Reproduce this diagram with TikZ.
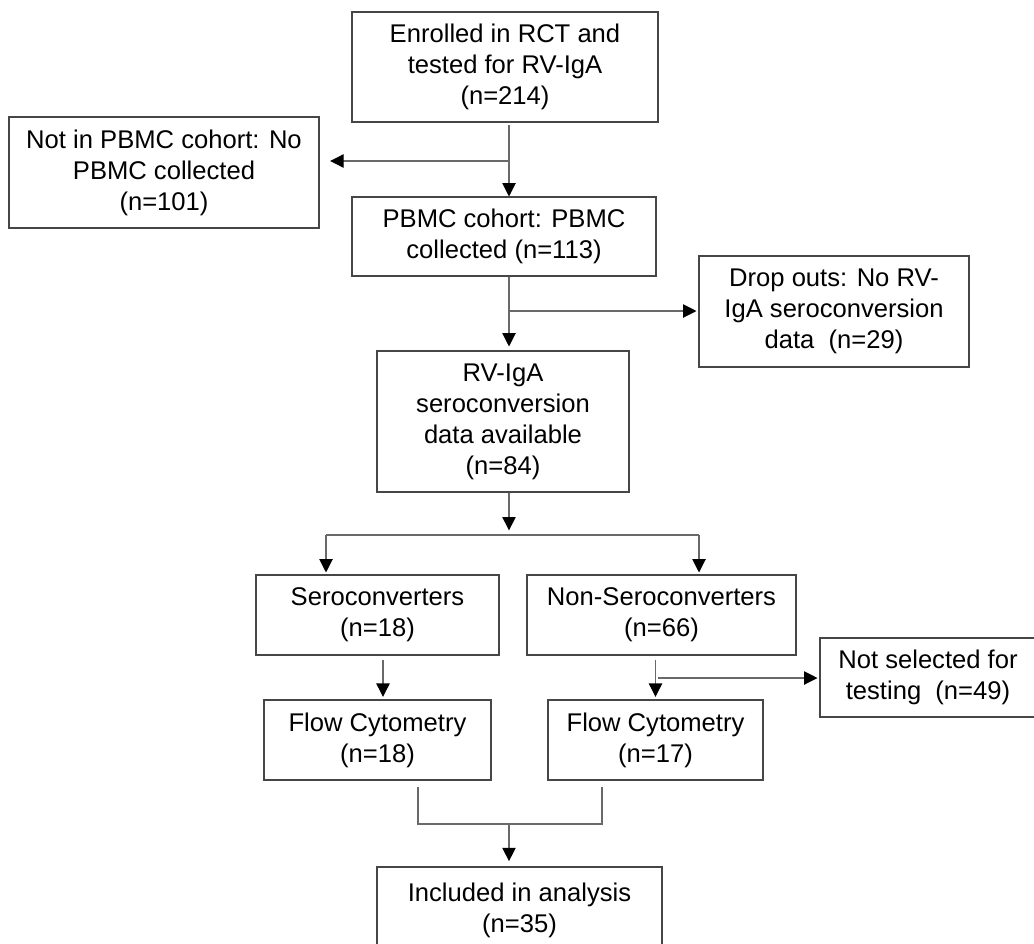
\documentclass[tikz,border=0pt]{standalone}
\usepackage{fontspec}
\setmainfont{Liberation Sans}
\usetikzlibrary{arrows.meta}

\definecolor{boxgray}{RGB}{70,70,70}
\definecolor{lngray}{RGB}{105,105,105}

\begin{document}
\begin{tikzpicture}[x=0.75pt, y=-0.75pt,
  box/.style={draw=boxgray, line width=0.8pt, align=center, inner sep=0pt,
    font=\fontsize{19.2}{23.3}\selectfont},
  link/.style={draw=lngray, line width=0.8pt},
  arr/.style={link, -{Triangle[width=10pt, length=10pt, color=black]}}]

  \useasboundingbox (0,0) rectangle (1034,943);

  % main column
  \node[box, minimum width=229.5pt, minimum height=82.5pt] (enrol) at (505,67)
    {Enrolled in RCT and\\tested for RV-IgA\\(n=214)};
  \node[box, minimum width=228pt, minimum height=59.25pt] (pbmc) at (504,236.5)
    {PBMC cohort: PBMC\\collected (n=113)};
  \node[box, minimum width=189pt, minimum height=105.75pt] (rviga) at (503,421.5)
    {RV-IgA\\seroconversion\\data available\\(n=84)};

  % side exits
  \node[box, minimum width=232.5pt, minimum height=83.25pt] (notin) at (164,172.5)
    {Not in PBMC cohort: No\\PBMC collected\\(n=101)};
  \node[box, minimum width=202.5pt, minimum height=83.25pt] (drop) at (834,311.5)
    {Drop outs: No RV-\\IgA seroconversion\\data~ (n=29)};

  % two arms
  \node[box, minimum width=182.25pt, minimum height=60pt] (sero) at (377.5,615)
    {Seroconverters\\(n=18)};
  \node[box, minimum width=201.75pt, minimum height=60pt] (nonsero) at (661.5,615)
    {Non-Seroconverters\\(n=66)};
  \node[box, minimum width=170.25pt, minimum height=60pt] (flowA) at (377.5,740)
    {Flow Cytometry\\(n=18)};
  \node[box, minimum width=161.25pt, minimum height=60pt] (flowB) at (655.5,740)
    {Flow Cytometry\\(n=17)};
  \node[box, minimum width=162pt, minimum height=59.25pt] (notsel) at (928,677.5)
    {Not selected for\\testing~ (n=49)};
  \node[box, minimum width=213.75pt, minimum height=64.5pt] (incl) at (519.5,910)
    {Included in analysis\\(n=35)};

  % trunk and branch points
  \coordinate (trunk) at (509,0);
  \coordinate (colA) at (383,0);
  \coordinate (s1) at (509,161);
  \coordinate (s2) at (509,311);
  \coordinate (s3) at (658,678);
  \coordinate (split) at (509,535);
  \coordinate (splitL) at (326,535);
  \coordinate (splitR) at (699,535);
  \coordinate (mL) at (418,824);
  \coordinate (mR) at (602,824);
  \coordinate (m) at (509,824);

  \draw[arr, shorten <=2pt] (enrol.south -| trunk) -- (pbmc.north -| trunk);
  \draw[arr, shorten >=8pt] (s1) -- (s1 -| notin.east);

  \draw[arr, shorten >=3pt] (pbmc.south -| trunk) -- (rviga.north -| trunk);
  \draw[arr, shorten >=1.5pt] (s2) -- (s2 -| drop.west);

  % split into the two arms
  \draw[arr, shorten >=3.5pt] (rviga.south -| trunk) -- (split);
  \draw[link] (splitL) -- (splitR);
  \draw[arr, shorten >=1.5pt] (splitL) -- (splitL |- sero.north);
  \draw[arr, shorten >=1.5pt] (splitR) -- (splitR |- nonsero.north);

  \draw[arr, shorten <=3pt, shorten >=2pt] (sero.south -| colA) -- (flowA.north -| colA);
  \draw[arr, shorten <=3pt, shorten >=2pt] (nonsero.south -| flowB) -- (flowB.north);
  \draw[arr, shorten >=1.5pt] (s3) -- (s3 -| notsel.west);

  % merge
  \draw[link] ([yshift=-5pt]flowA.south -| mL) -- (mL) -- (mR)
    -- ([yshift=-5pt]flowB.south -| mR);
  \draw[arr, shorten >=4pt] (m) -- (m |- incl.north);

\end{tikzpicture}
\end{document}
